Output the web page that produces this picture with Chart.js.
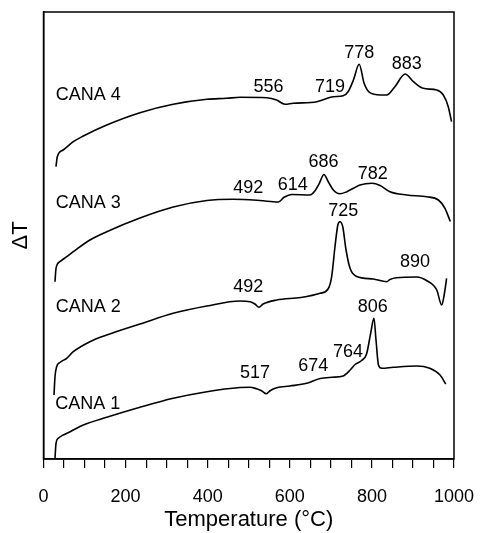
<!DOCTYPE html>
<html>
<head>
<meta charset="utf-8">
<script src="https://cdn.jsdelivr.net/npm/chart.js@4"></script>
<style>
  html, body { margin: 0; padding: 0; background: #fff; }
  #wrap { width: 482px; height: 533px; }
</style>
</head>
<body>
<div id="wrap"><canvas id="dtaChart" width="482" height="533"></canvas></div>
<script>
// temperature (°C) and ΔT (arbitrary units)
const cana1T = [28, 30.5, 36, 48, 65, 97, 154, 235, 316, 398, 479, 503, 519, 531, 543, 552, 568, 600, 641, 674, 703, 730, 747, 759, 775, 787, 797, 805, 810, 816, 824, 852, 909, 941, 966, 980]
const cana1Y = [0.7, 15.7, 20.7, 24, 27.3, 34, 41.7, 51.7, 60.7, 67.3, 71.5, 71.8, 70.2, 68.3, 65.3, 68.3, 71.2, 73, 75.7, 80.5, 81.7, 83, 89, 94.5, 98.5, 105, 125.7, 140.7, 119, 94, 90.7, 91.7, 93, 90.7, 84, 75]

const cana2T = [25.6, 28, 32, 40, 56.5, 72.6, 113, 154, 235, 316, 398, 479, 503, 515, 525, 535, 568, 627, 674, 694, 702, 710, 717, 722, 729, 737, 747, 763, 803, 836, 844, 860, 909, 933, 958, 970, 976, 982]
const cana2Y = [64, 82.3, 92.3, 96.5, 100.7, 107.3, 117.3, 124, 135, 145.7, 153, 158, 157.3, 155, 151.7, 155, 159, 161.5, 165.7, 170.5, 182.3, 212, 234, 237.3, 232.3, 209, 190.5, 182.5, 180, 177.3, 179.5, 181.3, 182, 178.5, 169, 154, 164, 180.7]

const cana3T = [28, 30.5, 40, 56.5, 72.6, 113, 154, 235, 316, 398, 462, 527, 572, 586, 605, 649, 661, 672, 683, 694, 706, 722, 739, 755, 771, 800, 820, 844, 885, 934, 962, 978, 991]
const cana3Y = [177.3, 190.7, 197.3, 202.3, 207.3, 219, 227.3, 241, 252, 258.5, 259.7, 258.5, 257, 261.7, 264.5, 264, 268, 275.7, 284.5, 277, 269, 265.2, 267.3, 270.7, 274, 275.7, 273.5, 267.3, 264, 262.3, 259, 250.7, 237.5]

const cana4T = [30.4, 33.6, 48, 72.6, 97, 154, 235, 316, 398, 446, 479, 544, 568, 588, 608, 666, 706, 730, 742, 755, 769, 781, 795, 820, 836, 856, 881, 901, 925, 958, 974, 986, 994]
const cana4Y = [292.3, 302.3, 309, 317.3, 323, 334, 346.3, 354.7, 359.7, 360.7, 361.7, 361.3, 359, 354.7, 355.7, 357.3, 362.3, 363.3, 367.3, 379, 394.7, 375.7, 366.3, 364, 364, 372.3, 385, 377.3, 370.7, 369, 364, 352.3, 337.3]

// text labels: sample names and peak temperatures
const labelText = ['CANA 4', '556', '719', '778', '883',
                   'CANA 3', '492', '614', '686', '782',
                   'CANA 2', '492', '725', '890', '806',
                   'CANA 1', '517', '674', '764']
const labelT = [109, 548, 698, 769, 885,
                109, 499, 607, 682, 802,
                109, 499, 730, 905, 802,
                108, 515, 657, 742]
const labelY = [364, 372.3, 372.3, 406.3, 395,
                256.3, 270.7, 274, 297.3, 285,
                151.7, 172.3, 248.3, 197.3, 151.7,
                55, 85.7, 93, 107.3]

const toPoints = (xs, ys) => xs.map((x, i) => ({ x: x, y: ys[i] }))

const FONT = '"Liberation Sans", Arial, sans-serif'

const series = [
    toPoints(cana1T, cana1Y),
    toPoints(cana2T, cana2Y),
    toPoints(cana3T, cana3Y),
    toPoints(cana4T, cana4Y)
]

// draws the frame round the plot and the peak / sample labels
const annotate = {
    id: 'annotate',
    afterDraw(chart) {
        const { ctx, chartArea, scales } = chart
        ctx.save()
        ctx.strokeStyle = '#000'
        ctx.lineWidth = 1.5
        ctx.strokeRect(chartArea.left, chartArea.top, chartArea.right - chartArea.left, chartArea.bottom - chartArea.top)
        ctx.fillStyle = '#000'
        ctx.font = '18px ' + FONT
        ctx.textAlign = 'center'
        ctx.textBaseline = 'middle'
        labelText.forEach((t, i) => {
            ctx.fillText(t, scales.x.getPixelForValue(labelT[i]), scales.y.getPixelForValue(labelY[i]))
        })
        ctx.restore()
    }
}

new Chart(document.getElementById('dtaChart'), {
    type: 'line',
    data: {
        datasets: series.map((pts, i) => ({
            label: 'CANA ' + (i + 1),
            data: pts,
            borderColor: '#000',
            borderWidth: 1.6,
            pointRadius: 0,
            fill: false,
            cubicInterpolationMode: 'monotone'
        }))
    },
    options: {
        responsive: false,
        animation: false,
        layout: { padding: { top: 12, right: 28, left: 0, bottom: 0 } },
        plugins: {
            legend: { display: false },
            tooltip: { enabled: false }
        },
        scales: {
            x: {
                type: 'linear',
                min: 0,
                max: 1000,
                afterFit: s => {
                    s.height = 74
                    s.paddingLeft = 0
                    s.paddingRight = 0
                },
                border: { color: '#000', width: 1.5 },
                grid: { drawOnChartArea: false, drawTicks: true, tickLength: 9, color: '#000', lineWidth: 1.2 },
                ticks: {
                    stepSize: 50,
                    autoSkip: false,
                    maxRotation: 0,
                    padding: 18,
                    color: '#000',
                    font: { family: FONT, size: 18 },
                    callback: v => (v % 200 === 0 ? v : '')
                },
                title: {
                    display: true,
                    text: 'Temperature (°C)',
                    color: '#000',
                    font: { family: FONT, size: 22 },
                    padding: { top: 0, bottom: 0 }
                }
            },
            y: {
                type: 'linear',
                min: 0,
                max: 447,
                afterFit: s => { s.width = 43.5 },
                border: { color: '#000', width: 1.5 },
                grid: { display: false },
                ticks: { display: false },
                title: {
                    display: true,
                    text: 'ΔT',
                    color: '#000',
                    font: { family: FONT, size: 22 },
                    padding: { top: 8, bottom: 0 }
                }
            }
        }
    },
    plugins: [annotate]
})
</script>
</body>
</html>
